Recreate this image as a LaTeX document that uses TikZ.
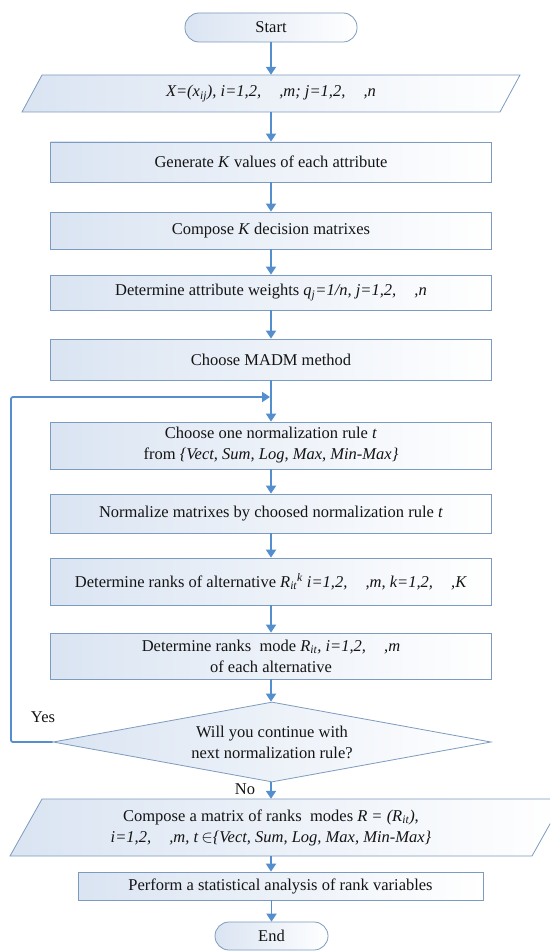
\documentclass[tikz,border=0pt]{standalone}
\usepackage{fontspec}
\setmainfont{LiberationSerif}[Extension=.ttf, UprightFont=*-Regular, ItalicFont=*-Italic, BoldFont=*-Bold, BoldItalicFont=*-BoldItalic]
\usetikzlibrary{shapes.geometric,arrows.meta}
\definecolor{bord}{RGB}{125,155,190}
\definecolor{arrc}{RGB}{85,142,205}
\definecolor{fillL}{RGB}{218,228,242}
\definecolor{txt}{RGB}{20,20,20}
\newcommand\myfs{\fontsize{16.5}{21}\selectfont}
\newcommand\gp{\hspace{1.1em}}
\begin{document}
\begin{tikzpicture}[x=1pt,y=-1pt,
  box/.style={rectangle, draw=bord, line width=0.8pt, left color=fillL, right color=white,
    inner sep=0pt, align=center, font=\myfs, text=txt},
  term/.style={box, rounded corners=14pt},
  ghost/.style={rectangle, inner sep=0pt, align=center, font=\myfs, text=txt},
  shapeline/.style={draw=bord, line width=0.8pt, left color=fillL, right color=white},
  arr/.style={draw=arrc, line width=1.8pt, -{Triangle[width=10pt,length=8pt]}},
  lbl/.style={font=\myfs, text=txt, inner sep=0pt}]
\useasboundingbox (0,0) rectangle (550,952);
\fill[white] (0,0) rectangle (550,952);
\begin{scope}
\clip (0,0) rectangle (550,952);

\node[term, minimum width=172pt, minimum height=29pt] (start) at (271,27.5) {Start};

\path[shapeline] (42,75) -- (520,75) -- (500,112) -- (22,112) -- cycle;
\node[ghost, minimum width=400pt, minimum height=37pt] (p1) at (271,93.5)
  {\textit{X=(x\textsubscript{ij}), i=1,2,\gp,m; j=1,2,\gp,n}};

\node[box, minimum width=441pt, minimum height=40pt] (b1) at (271,162)
  {Generate \textit{K} values of each attribute};
\node[box, minimum width=441pt, minimum height=37pt] (b2) at (271,230.5)
  {Compose \textit{K} decision matrixes};
\node[box, minimum width=441pt, minimum height=35pt] (b3) at (271,292.5)
  {Determine attribute weights \textit{q\textsubscript{j}=1/n, j=1,2,\gp,n}};
\node[box, minimum width=441pt, minimum height=41pt] (b4) at (271,359.5)
  {Choose MADM method};
\node[box, minimum width=441pt, minimum height=47pt] (b5) at (271,445.5)
  {Choose one normalization rule \textit{t}\\from \textit{\{Vect, Sum, Log, Max, Min-Max\}}};
\node[box, minimum width=441pt, minimum height=39pt] (b6) at (271,513.5)
  {Normalize matrixes by choosed normalization rule \textit{t}};
\node[box, minimum width=441pt, minimum height=47pt] (b7) at (271,581.5)
  {Determine ranks of alternative \textit{R\textsubscript{it}\textsuperscript{k} i=1,2,\gp,m, k=1,2,\gp,K}};
\node[box, minimum width=441pt, minimum height=46pt] (b8) at (271,656)
  {Determine ranks\ \ mode \textit{R\textsubscript{it}, i=1,2,\gp,m}\\of each alternative};

\node[diamond, draw=bord, line width=0.8pt, left color=fillL, right color=white,
  minimum width=438pt, minimum height=80pt, inner sep=0pt, aspect=5.5,
  align=center, font=\myfs, text=txt] (dia) at (272,742)
  {Will you continue with\\next normalization rule?};

\path[shapeline] (42,799) -- (564,799) -- (532,856) -- (10,856) -- cycle;
\node[ghost, minimum width=400pt, minimum height=57pt] (p2) at (271,827.5)
  {Compose a matrix of ranks\ \ modes \textit{R = (R\textsubscript{it})},\\
   \textit{i=1,2,\gp,m, t}\,$\in$\textit{\{Vect, Sum, Log, Max, Min-Max\}}};

\node[box, minimum width=405pt, minimum height=28pt] (b9) at (280.5,886)
  {Perform a statistical analysis of rank variables};
\node[term, minimum width=113pt, minimum height=28pt] (end) at (271.5,936) {End};

\node[lbl] (yes) at (43,717) {Yes};
\node[lbl] (no) at (245,789) {No};

\coordinate (join) at (271,397);
\coordinate (yl) at (11,0);

\draw[arr] (start.south) -- (start.south |- p1.north);
\draw[arr] (p1.south) -- (b1.north);
\draw[arr] (b1.south) -- (b2.north);
\draw[arr] (b2.south) -- (b3.north);
\draw[arr] (b3.south) -- (b4.north);
\draw[arr] (b4.south) -- (b5.north);
\draw[arr] (b5.south) -- (b6.north);
\draw[arr] (b6.south) -- (b7.north);
\draw[arr] (b7.south) -- (b8.north);
\draw[arr] (b8.south) -- (b8.south |- dia.north);
\draw[arr] (dia.south -| p2) -- (p2.north);
\draw[arr] (p2.south) -- (p2.south |- b9.north);
\draw[arr] (b9.south -| end) -- (end.north);
\draw[arr, rounded corners=2pt] (dia.west) -- (dia.west -| yl) |- ([xshift=-1pt]join);
\end{scope}
\end{tikzpicture}
\end{document}
